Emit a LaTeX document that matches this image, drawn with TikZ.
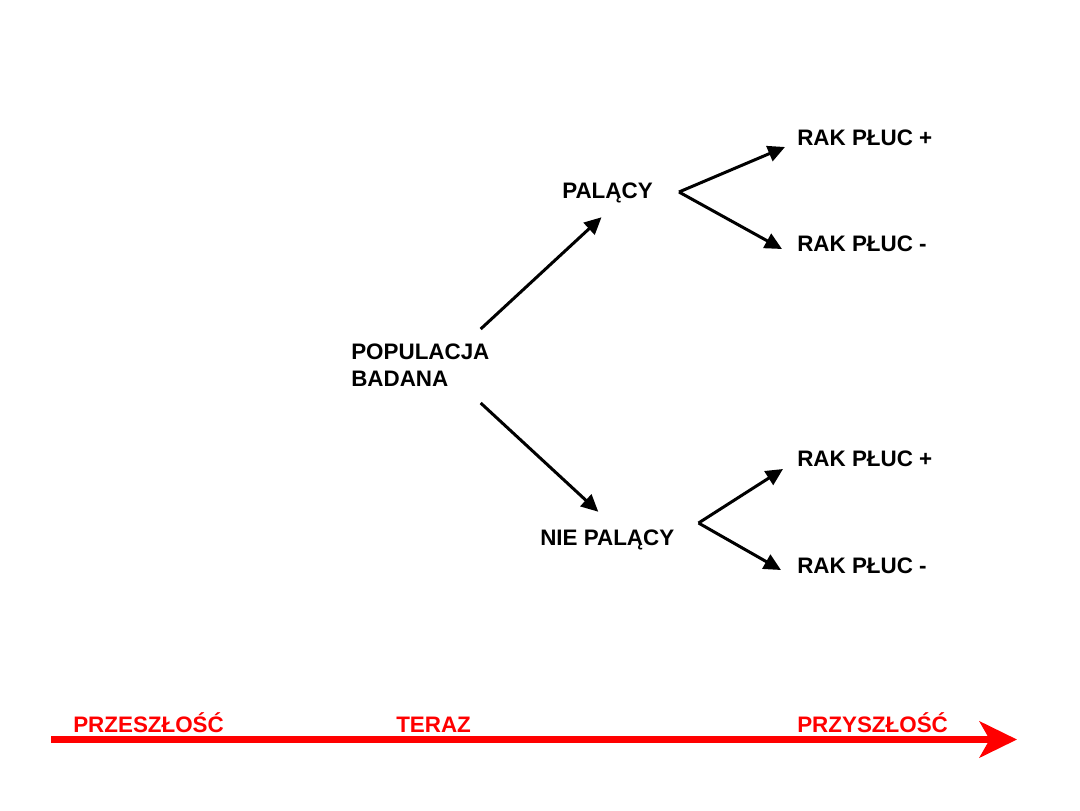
\documentclass[tikz,border=0pt]{standalone}
\usepackage{fontspec}
\setmainfont{Liberation Sans}
\usetikzlibrary{arrows.meta,positioning}

\begin{document}
\begin{tikzpicture}[x=0.75pt,y=-0.75pt,
    lbl/.style = {inner sep=0pt, anchor=west, text height=12pt, text depth=0pt,
        font=\fontsize{16.8}{20.25}\selectfont\bfseries},
    tlbl/.style = {lbl, text=red},
    arr/.style = {line width=2.25pt, -{Triangle[length=12.75pt,width=12pt]}},
    timeline/.style = {red, line width=5.6pt, -{Stealth[length=28pt,width=27pt,inset=7.5pt]}}]
    \useasboundingbox (0,0) rectangle (1080,810);

    \node[lbl, align=left] (pop) at (351,378) {POPULACJA\\BADANA};
    \node[lbl] (pal) at (562,190) {PALĄCY};
    \node[lbl] (nie) at (540,537) {NIE PALĄCY};
    \node[lbl] (rak1) at (797,137) {RAK PŁUC +};
    \node[lbl] (rak2) at (797,243) {RAK PŁUC -};
    \node[lbl] (rak3) at (797,458) {RAK PŁUC +};
    \node[lbl] (rak4) at (797,565) {RAK PŁUC -};

    \node[tlbl] (past) at (73,724) {PRZESZŁOŚĆ};
    \node[tlbl] (now) at (396,724) {TERAZ};
    \node[tlbl] (future) at (797,724) {PRZYSZŁOŚĆ};
    \coordinate (t0) at (51,739.5);
    \coordinate (t1) at (1017,739.5);

    \draw[arr] ([shift={(-9,-49)}]pop.east) -- ([shift={(-6,19)}]pal.south);
    \draw[arr] ([shift={(-9,25)}]pop.east) -- ([shift={(-9,-17)}]nie.north);
    \draw[arr] ([shift={(26,2)}]pal.east) -- ([shift={(-12,10)}]rak1.west);
    \draw[arr] ([shift={(26,2)}]pal.east) -- ([shift={(-15,6)}]rak2.west);
    \draw[arr] ([shift={(24,-14)}]nie.east) -- ([shift={(-14,11)}]rak3.west);
    \draw[arr] ([shift={(24,-14)}]nie.east) -- ([shift={(-16,5)}]rak4.west);

    \draw[timeline] (t0) -- (t1);
\end{tikzpicture}
\end{document}
